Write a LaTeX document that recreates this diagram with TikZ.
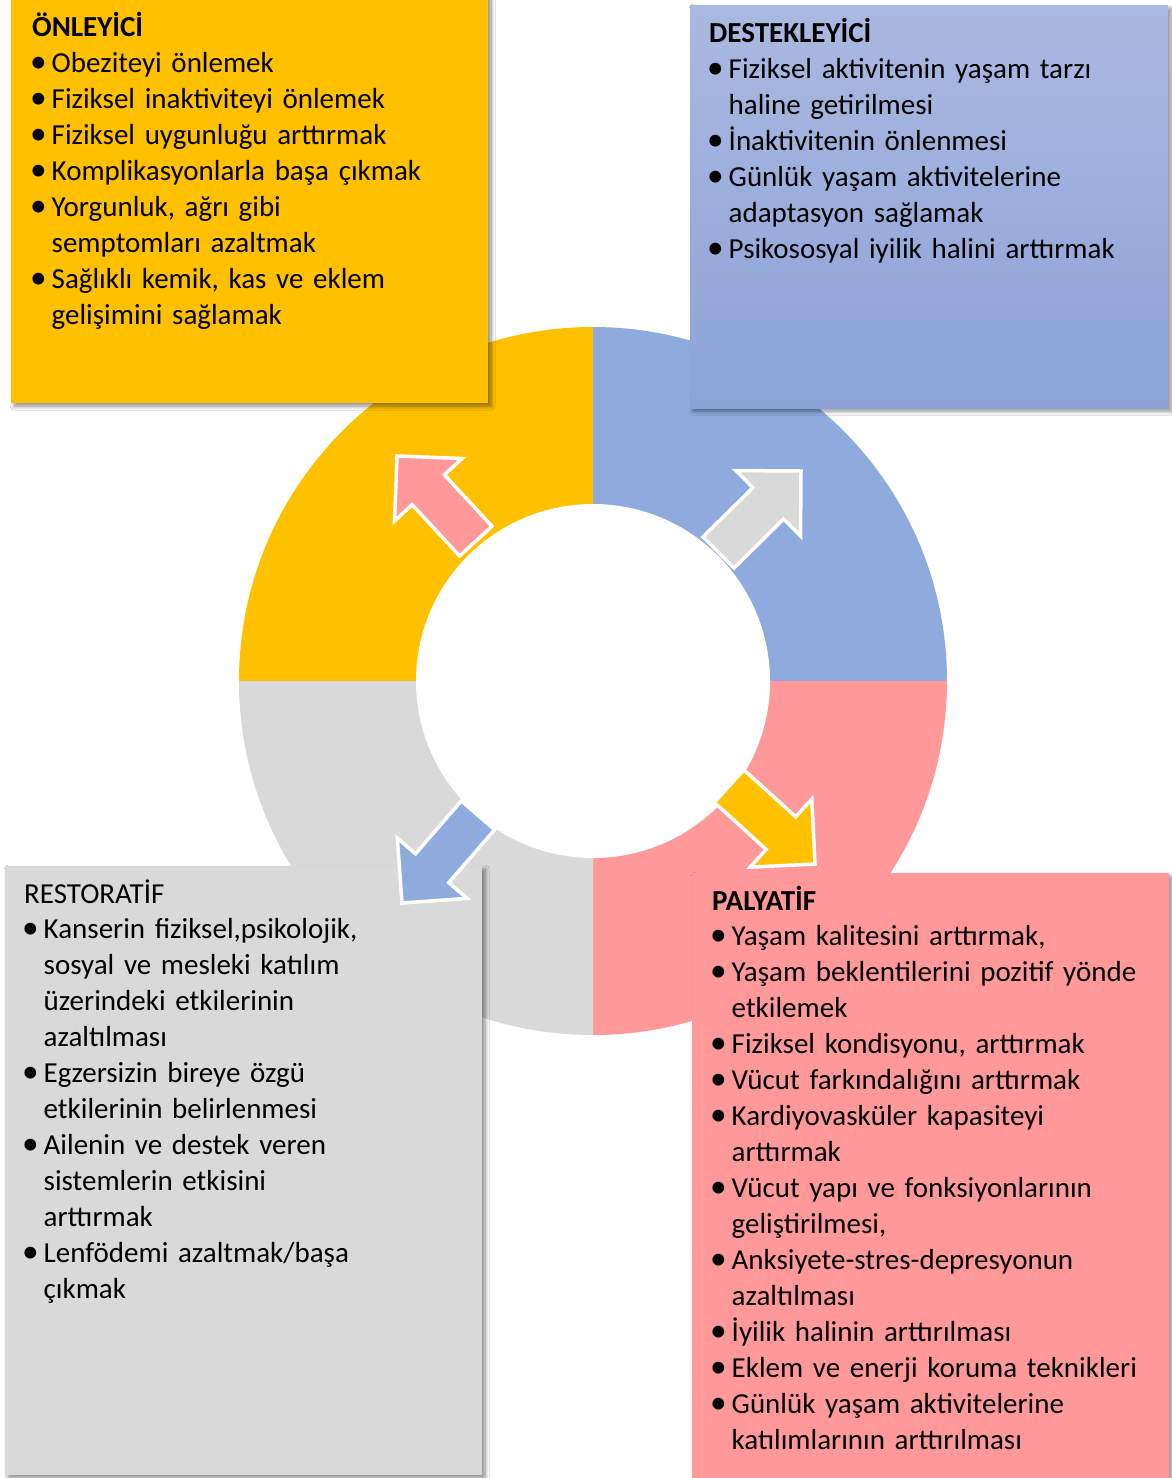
\documentclass[tikz,border=0pt]{standalone}
\usepackage{fontspec}
\setmainfont{Carlito}
\usetikzlibrary{shadows.blur}
\definecolor{cyel}{HTML}{FFC000}
\definecolor{cblu}{HTML}{8FAADC}
\definecolor{cpnk}{HTML}{FF9999}
\definecolor{cgry}{HTML}{D9D9D9}
\definecolor{cblutop}{HTML}{AAB9E1}
\definecolor{cblubot}{HTML}{8CA2D7}
\newcommand{\bitem}[1]{\par\noindent\hangindent=19.5pt\hangafter=1\makebox[19.5pt][l]{\hspace{-2pt}\scalebox{1.15}{•}}#1\par}
\newcommand{\nl}{\hfil\break}
\tikzset{
  panel/.style={draw=none, inner sep=0pt, anchor=north west,
    blur shadow={shadow xshift=3pt, shadow yshift=-3pt, shadow blur steps=8, shadow blur radius=4pt, shadow opacity=45}},
  paneltext/.style={inner sep=0pt, anchor=base west, text width=450pt, align=left,
    font=\fontsize{29}{35.95}\selectfont},
  blockarrow/.style={draw=white, line width=3.5pt, line join=miter},
}
\newcommand{\barrow}[4]{%
  \begin{scope}[shift={(#1,#2)}, rotate=#3]
    \filldraw[blockarrow, fill=#4] (0pt,0pt) -- (-46pt,46pt) -- (-46pt,22pt) -- (-116pt,22pt)
      -- (-116pt,-22pt) -- (-46pt,-22pt) -- (-46pt,-46pt) -- cycle;
  \end{scope}}
\begin{document}
\begin{tikzpicture}[x=1pt, y=-1pt]
\useasboundingbox (0,0) rectangle (1171,1478);
\fill[white] (0,0) rectangle (1171,1478);
% ring
\coordinate (c) at (593,681);
\fill[cyel] (c) -- +(180:354) arc[start angle=180, end angle=270, radius=354] -- cycle;
\fill[cblu] (c) -- +(270:354) arc[start angle=270, end angle=360, radius=354] -- cycle;
\fill[cpnk] (c) -- +(0:354) arc[start angle=0, end angle=90, radius=354] -- cycle;
\fill[cgry] (c) -- +(90:354) arc[start angle=90, end angle=180, radius=354] -- cycle;
\fill[white] (c) circle[radius=177];
% panels
\node[panel, fill=cyel, minimum width=477pt, minimum height=408pt] (onbox) at (11,-5) {};
\node[panel, top color=cblutop, bottom color=cblubot, minimum width=478pt, minimum height=403pt] (debox) at (690,5) {};
\node[panel, fill=cgry, minimum width=477pt, minimum height=609pt] (rebox) at (5,866) {};
\node[panel, fill=cpnk, minimum width=477pt, minimum height=620pt] (pabox) at (692,873) {};
% texts
\node[paneltext] (ontext) at (32,36.7) {\textbf{ÖNLEYİCİ}
\bitem{Obeziteyi önlemek}
\bitem{Fiziksel inaktiviteyi önlemek}
\bitem{Fiziksel uygunluğu arttırmak}
\bitem{Komplikasyonlarla başa çıkmak}
\bitem{Yorgunluk, ağrı gibi\nl semptomları azaltmak}
\bitem{Sağlıklı kemik, kas ve eklem\nl gelişimini sağlamak}};
\node[paneltext] (detext) at (709,42.7) {\textbf{DESTEKLEYİCİ}
\bitem{Fiziksel aktivitenin yaşam tarzı\nl haline getirilmesi}
\bitem{İnaktivitenin önlenmesi}
\bitem{Günlük yaşam aktivitelerine\nl adaptasyon sağlamak}
\bitem{Psikososyal iyilik halini arttırmak}};
\node[paneltext] (retext) at (24,903) {RESTORATİF
\bitem{Kanserin fiziksel,psikolojik,\nl sosyal ve mesleki katılım\nl üzerindeki etkilerinin\nl azaltılması}
\bitem{Egzersizin bireye özgü\nl etkilerinin belirlenmesi}
\bitem{Ailenin ve destek veren\nl sistemlerin etkisini\nl arttırmak}
\bitem{Lenfödemi azaltmak/başa\nl çıkmak}};
\node[paneltext] (patext) at (712,910) {\textbf{PALYATİF}
\bitem{Yaşam kalitesini arttırmak,}
\bitem{Yaşam beklentilerini pozitif yönde\nl etkilemek}
\bitem{Fiziksel kondisyonu, arttırmak}
\bitem{Vücut farkındalığını arttırmak}
\bitem{Kardiyovasküler kapasiteyi\nl arttırmak}
\bitem{Vücut yapı ve fonksiyonlarının\nl geliştirilmesi,}
\bitem{Anksiyete-stres-depresyonun\nl azaltılması}
\bitem{İyilik halinin arttırılması}
\bitem{Eklem ve enerji koruma teknikleri}
\bitem{Günlük yaşam aktivitelerine\nl katılımlarının arttırılması}};
% arrows
\barrow{397}{456}{132.8}{cpnk}
\barrow{801}{471}{44.6}{cgry}
\barrow{815}{864}{-42.2}{cyel}
\barrow{402}{903}{229.1}{cblu}
\end{tikzpicture}
\end{document}
